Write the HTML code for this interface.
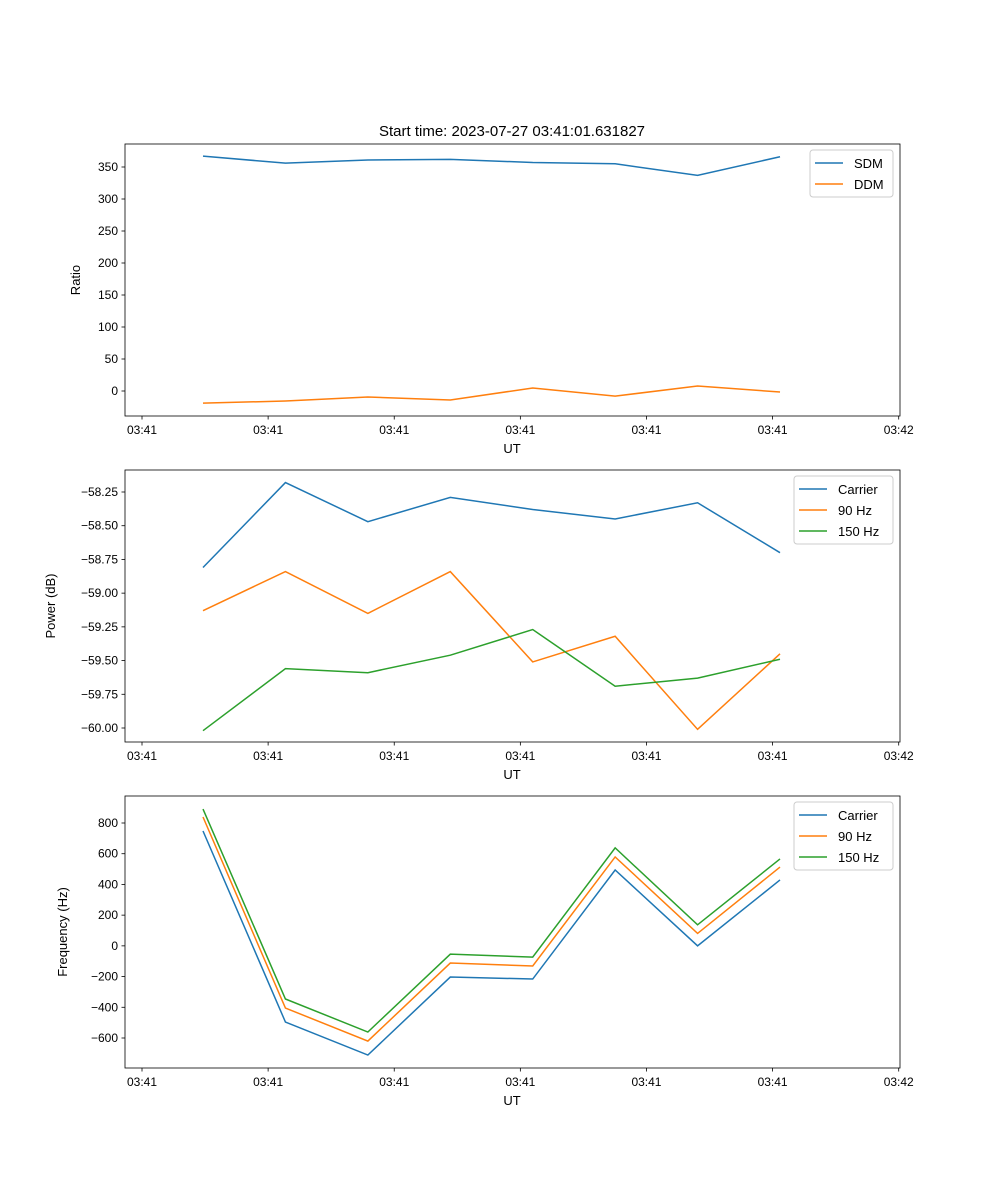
<!DOCTYPE html>
<html><head><meta charset="utf-8"><style>
body{margin:0;background:#fff;}
svg{display:block;font-family:"Liberation Sans","DejaVu Sans",sans-serif;}
</style></head><body>
<svg id="fig" width="1000" height="1200" xmlns="http://www.w3.org/2000/svg">
<text x="512" y="136" font-size="15" text-anchor="middle">Start time: 2023-07-27 03:41:01.631827</text>
</svg>
<script>
const sampleIdx=[0,1,2,3,4,5,6,7];
const xTickVals=[-0.74,0.79,2.32,3.85,5.38,6.91,8.44];
const xTickLabels=["03:41","03:41","03:41","03:41","03:41","03:41","03:42"];
const sdm=[367,356,361,362,357,355,337,366];
const ddm=[-19,-15.6,-9.4,-14,4.7,-8,7.8,-1.6];
const pwrCarrier=[-58.81,-58.18,-58.47,-58.29,-58.38,-58.45,-58.33,-58.70];
const pwr90=[-59.13,-58.84,-59.15,-58.84,-59.51,-59.32,-60.01,-59.45];
const pwr150=[-60.02,-59.56,-59.59,-59.46,-59.27,-59.69,-59.63,-59.49];
const frqCarrier=[748,-496,-711,-203,-216,494,0,429];
const frq90=[839,-405,-620,-112,-131,579,81,513];
const frq150=[891,-346,-561,-54,-73,638,137,566];
const ticks1=[0,50,100,150,200,250,300,350];
const ticks2=[-60.00,-59.75,-59.50,-59.25,-59.00,-58.75,-58.50,-58.25];
const ticks3=[-600,-400,-200,0,200,400,600,800];
const C=["#1f77b4","#ff7f0e","#2ca02c"];
const NS="http://www.w3.org/2000/svg";
const svg=document.getElementById('fig');
function mk(t,a,p){const e=document.createElementNS(NS,t);for(const k in a)e.setAttribute(k,a[k]);(p||svg).appendChild(e);return e;}
const xs=i=>203+i*82.43;
function panel(top,name,yLab,yv0,yp0,yv1,yp1,ticks,fmt,series,legend,legW){
  const ys=v=>yp0+(v-yv0)*(yp1-yp0)/(yv1-yv0);
  const g=mk('g',{});
  
  
  const L=125,R=900,T=top,B=top+272;
  series.forEach((s,k)=>{
    const p=mk('polyline',{points:sampleIdx.map(i=>xs(i)+','+ys(s.d[i])).join(' '),fill:'none',stroke:C[k],'stroke-width':1.5},g);
    
    
  });
  mk('rect',{x:L,y:T,width:R-L,height:B-T,fill:'none',stroke:'#000','stroke-width':0.8},g);
  xTickVals.forEach((v,i)=>{const x=xs(v);mk('line',{x1:x,x2:x,y1:B,y2:B+3.5,stroke:'#000','stroke-width':0.8},g);
    const t=mk('text',{x:x,y:B+18,'font-size':12,'text-anchor':'middle'},g);t.textContent=xTickLabels[i];
    });
  ticks.forEach(v=>{const y=ys(v);mk('line',{x1:L-3.5,x2:L,y1:y,y2:y,stroke:'#000','stroke-width':0.8},g);
    const t=mk('text',{x:L-7,y:y+4,'font-size':12,'text-anchor':'end'},g);t.textContent=fmt(v);
    });
  const xl=mk('text',{x:512,y:B+37,'font-size':13,'text-anchor':'middle'},g);xl.textContent='UT';
  
  const yx=legend.yx;
  const yl=mk('text',{x:yx,y:(T+B)/2,'font-size':13,'text-anchor':'middle',transform:`rotate(-90 ${yx} ${(T+B)/2})`},g);yl.textContent=yLab;
  
  const lx=R-7-legW,ly=T+6;
  const lg=mk('g',{},g);
  mk('rect',{x:lx,y:ly,width:legW,height:series.length*21+5,fill:'#fff',stroke:'#ccc',rx:3},lg);
  series.forEach((s,k)=>{const yy=ly+13+k*21;
    mk('line',{x1:lx+5,x2:lx+33,y1:yy,y2:yy,stroke:C[k],'stroke-width':1.5},lg);
    const t=mk('text',{x:lx+44,y:yy+5,'font-size':13},lg);t.textContent=s.n;
    });
}
panel(144,'ratio','Ratio',0,391,350,167,ticks1,v=>String(v),[{n:'SDM',d:sdm},{n:'DDM',d:ddm}],{yx:80},83);
panel(470,'power','Power (dB)',-58.25,492,-60,728,ticks2,v=>v.toFixed(2).replace('-','\u2212'),[{n:'Carrier',d:pwrCarrier},{n:'90 Hz',d:pwr90},{n:'150 Hz',d:pwr150}],{yx:55},99);
panel(796,'frequency','Frequency (Hz)',800,823,-600,1038,ticks3,v=>String(v).replace('-','\u2212'),[{n:'Carrier',d:frqCarrier},{n:'90 Hz',d:frq90},{n:'150 Hz',d:frq150}],{yx:67},99);
</script>
</body></html>
